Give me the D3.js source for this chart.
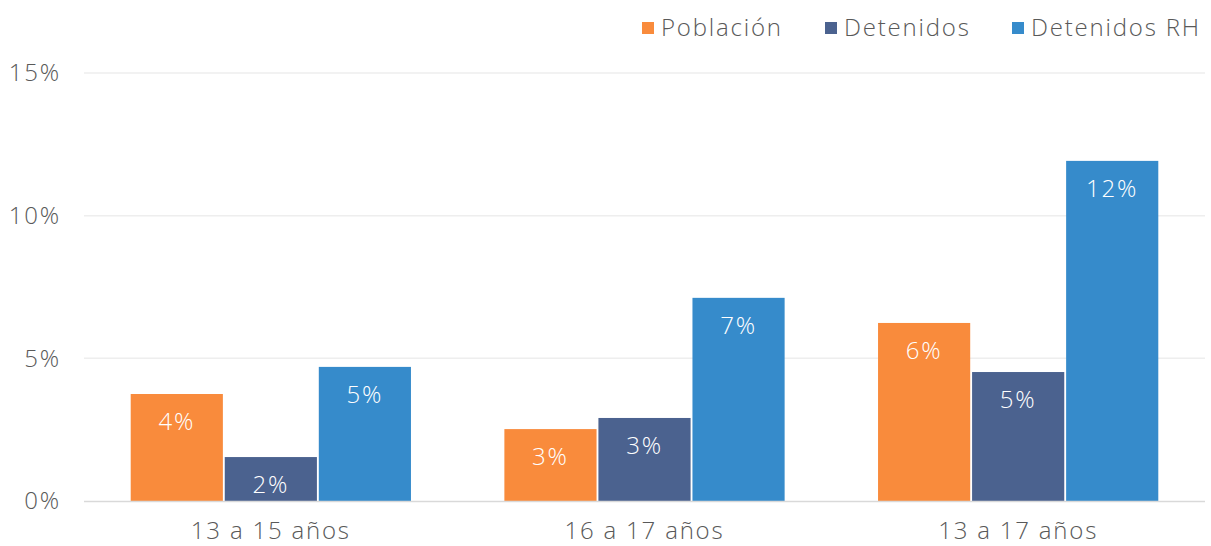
<!DOCTYPE html>
<html>
<head>
<meta charset="utf-8">
<script src="https://cdn.jsdelivr.net/npm/d3@7"></script>
<style>
  body { margin: 0; background: #fff; }
  text { font-family: "Open Sans", Lato, sans-serif; font-weight: 300; letter-spacing: 1.8px; }
</style>
</head>
<body>
<div id="chart"></div>
<script>
var categories = ["13 a 15 años", "16 a 17 años", "13 a 17 años"];
var seriesNames = ["Población", "Detenidos", "Detenidos RH"];
var poblacion = [3.75, 2.52, 6.24];
var detenidos = [1.54, 2.91, 4.52];
var detenidosRH = [4.70, 7.12, 11.92];
var yTicks = [0, 5, 10, 15];
var colors = ["#F98B3C", "#4B628F", "#368BCB"];

var W = 1211, H = 546;
var margin = { left: 84, right: 6, top: 73, bottom: 45 };
var width = W - margin.left - margin.right,
    height = H - margin.top - margin.bottom;

var svg = d3.select("#chart").append("svg")
    .attr("width", W)
    .attr("height", H)
  .append("g")
    .attr("transform", "translate(" + margin.left + "," + margin.top + ")");

var series = [poblacion, detenidos, detenidosRH];

var x0 = d3.scaleBand()
    .domain(categories)
    .range([0, width])
    .paddingInner(0.25)
    .paddingOuter(0.125);

var x1 = d3.scaleBand()
    .domain(seriesNames)
    .range([0, x0.bandwidth()])
    .paddingInner(0.02);

var y = d3.scaleLinear()
    .domain([0, 15])
    .range([height, 0]);

// grid lines
svg.selectAll(".grid")
    .data(yTicks.filter(function(d) { return d > 0; }))
    .enter().append("line")
    .attr("x1", 0).attr("x2", width)
    .attr("y1", function(d) { return y(d); })
    .attr("y2", function(d) { return y(d); })
    .attr("stroke", "#EEEEEE")
    .attr("stroke-width", 1.5);

// y labels
svg.selectAll(".ylab")
    .data(yTicks)
    .enter().append("text")
    .attr("x", -23)
    .attr("y", function(d) { return y(d); })
    .attr("dy", "0.35em")
    .attr("text-anchor", "end")
    .attr("font-size", "24px")
    .attr("fill", "#595959")
    .text(function(d) { return d + "%"; });

// bars
var groups = svg.selectAll(".grp")
    .data(categories)
    .enter().append("g")
    .attr("transform", function(d) { return "translate(" + x0(d) + ",0)"; });

function rows(c, i) {
  return seriesNames.map(function(s, j) { return { s: s, v: series[j][i], j: j }; });
}

groups.selectAll("rect")
    .data(rows)
    .enter().append("rect")
    .attr("x", function(d) { return x1(d.s); })
    .attr("y", function(d) { return y(d.v); })
    .attr("width", x1.bandwidth())
    .attr("height", function(d) { return height - y(d.v); })
    .attr("fill", function(d) { return colors[d.j]; });

groups.selectAll(".lbl")
    .data(rows)
    .enter().append("text")
    .attr("x", function(d) { return x1(d.s) + x1.bandwidth() / 2; })
    .attr("y", function(d) { return y(d.v) + 28; })
    .attr("dy", "0.35em")
    .attr("text-anchor", "middle")
    .attr("font-size", "24px")
    .attr("fill", "#fff")
    .text(function(d) { return Math.round(d.v) + "%"; });

// baseline
svg.append("line")
    .attr("x1", 0).attr("x2", width)
    .attr("y1", height + 0.5).attr("y2", height + 0.5)
    .attr("stroke", "#D9D9D9")
    .attr("stroke-width", 1.5);

// x labels
svg.selectAll(".xlab")
    .data(categories)
    .enter().append("text")
    .attr("x", function(d) { return x0(d) + x0.bandwidth() / 2; })
    .attr("y", height + 38)
    .attr("text-anchor", "middle")
    .attr("font-size", "24px")
    .attr("fill", "#595959")
    .text(function(d) { return d; });

// legend
var legX = [642, 825, 1012];
var legend = d3.select("svg").append("g");
seriesNames.forEach(function(s, i) {
  legend.append("rect")
      .attr("x", legX[i]).attr("y", 22)
      .attr("width", 12).attr("height", 12)
      .attr("fill", colors[i]);
  legend.append("text")
      .attr("x", legX[i] + 19).attr("y", 28)
      .attr("dy", "0.35em")
      .attr("font-size", "24px")
      .attr("fill", "#595959")
      .text(s);
});
</script>
</body>
</html>
